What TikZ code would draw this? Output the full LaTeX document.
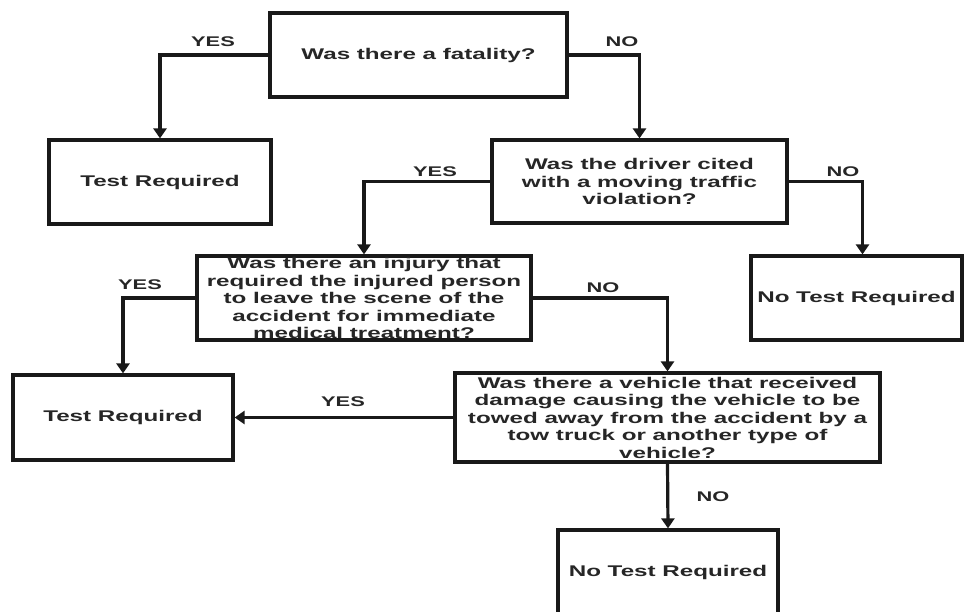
\documentclass[tikz,border=0pt]{standalone}
\usepackage{fontspec}
\newfontfamily\diagfont{Liberation Sans}[FakeStretch=1.56]
\usetikzlibrary{arrows.meta,calc}
\begin{document}
\begin{tikzpicture}[x=1pt,y=-1pt,
  box/.style={draw=black!90, line width=3.2pt, rectangle, inner sep=0pt},
  txt/.style={font=\diagfont\bfseries\fontsize{15.5}{17.5}\selectfont, align=center, text=black!85, inner sep=0pt},
  lbl/.style={font=\diagfont\bfseries\fontsize{14}{16}\selectfont, text=black!85, inner sep=0pt},
  arr/.style={draw=black!90, line width=3.2pt, -{Triangle[width=13pt,length=10pt]}}]
\useasboundingbox (0,0) rectangle (964,612);
\clip (0,0) rectangle (964,612);
\fill[white] (0,0) rectangle (964,612);

\node[box, minimum width=297pt, minimum height=84pt] (fat) at (418.5,55) {};
\node[txt] (fatT) at (fat) {Was there a fatality?};

\node[box, minimum width=222pt, minimum height=84pt] (testA) at (160,182) {};
\node[txt] (testAT) at (testA) {Test Required};

\node[box, minimum width=295pt, minimum height=83pt] (drv) at (639.5,181.5) {};
\node[txt] (drvT) at (drv) {Was the driver cited\\with a moving traffic\\violation?};

\node[box, minimum width=334pt, minimum height=84pt] (inj) at (364,298) {};
\node[txt] (injT) at (inj) {Was there an injury that\\required the injured person\\to leave the scene of the\\accident for immediate\\medical treatment?};

\node[box, minimum width=211pt, minimum height=84pt] (nta) at (856.5,298) {};
\node[txt] (ntaT) at (nta) {No Test Required};

\node[box, minimum width=220pt, minimum height=85pt] (testB) at (123,417.5) {};
\node[txt] (testBT) at (testB) {Test Required};

\node[box, minimum width=425pt, minimum height=89pt] (veh) at (667.5,417.5) {};
\node[txt] (vehT) at (veh) {Was there a vehicle that received\\damage causing the vehicle to be\\towed away from the accident by a\\tow truck or another type of\\vehicle?};

\node[box, minimum width=220pt, minimum height=84pt] (ntb) at (668,572) {};
\node[txt] (ntbT) at (ntb) {No Test Required};

\draw[arr] (fat.west) -| (testA.north);
\draw[arr] (fat.east) -| (drv.north);
\draw[arr] (drv.west) -| (inj.north);
\draw[arr] (drv.east) -| ($(nta.north)+(6,0)$);
\draw[arr] (inj.west) -| (testB.north);
\draw[arr] (inj.east) -| (veh.north);
\draw[arr] (veh.west) -- (testB.east);
\draw[arr] (veh.south) -- (ntb.north);

\node[lbl] (l1) at (213,42) {YES};
\node[lbl] (l2) at (622,42) {NO};
\node[lbl] (l3) at (435,172) {YES};
\node[lbl] (l4) at (843,172) {NO};
\node[lbl] (l5) at (140,285) {YES};
\node[lbl] (l6) at (603,288) {NO};
\node[lbl] (l7) at (343,402) {YES};
\node[lbl] (l8) at (713,497) {NO};
\end{tikzpicture}
\end{document}
